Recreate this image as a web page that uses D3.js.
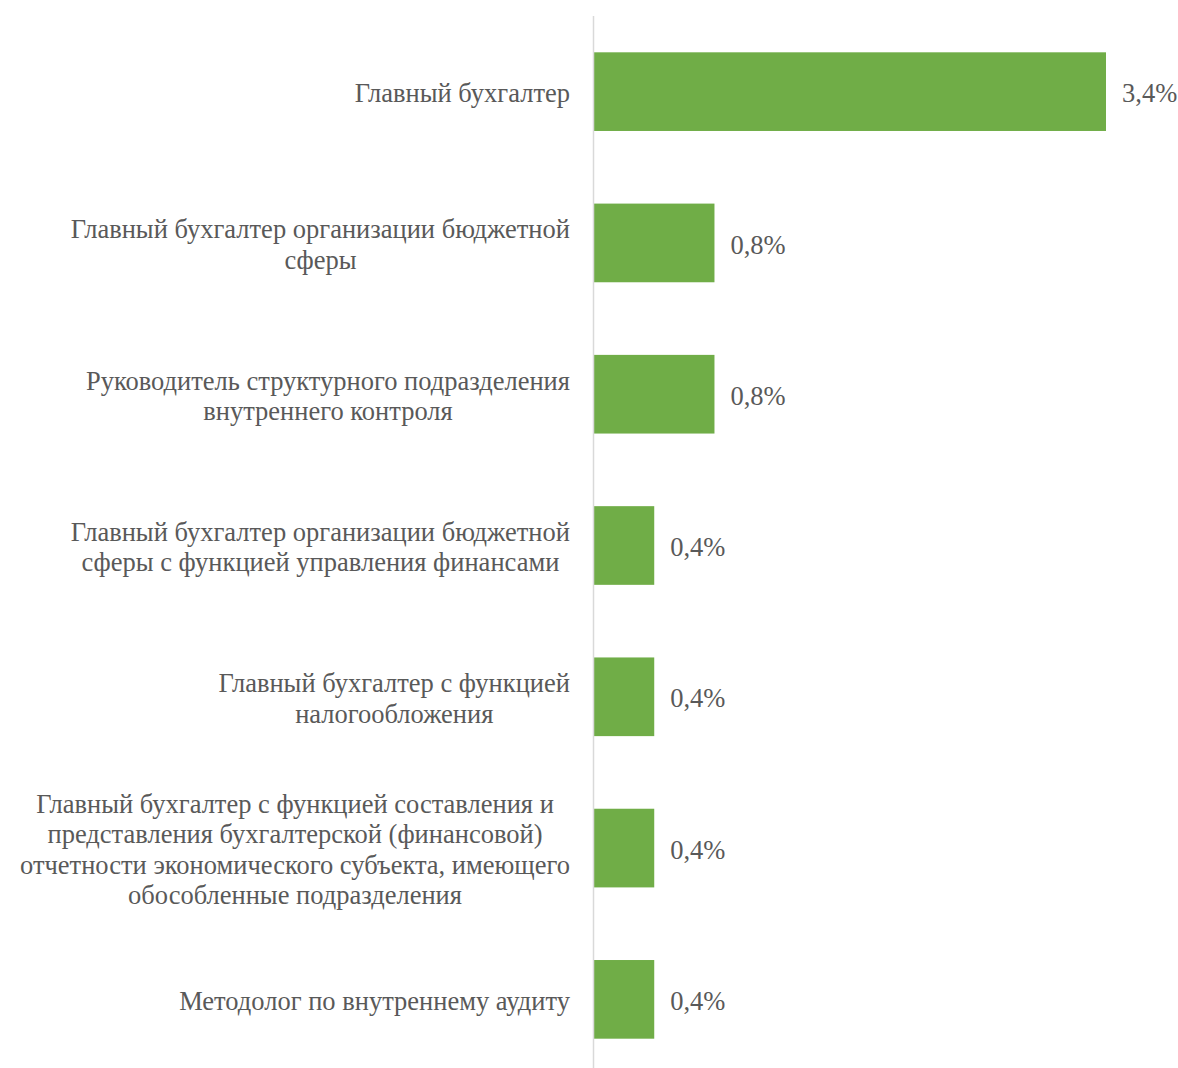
<!DOCTYPE html>
<html>
<head>
<meta charset="utf-8">
<script src="https://cdn.jsdelivr.net/npm/d3@7"></script>
<style>
  html, body { margin: 0; padding: 0; background: #fff; }
  svg { display: block; }
</style>
</head>
<body>
<svg id="chart" width="1178" height="1068"></svg>
<script>
// Position titles (each entry is the wrapped lines of one label)
const categories = [
  ["Главный бухгалтер"],
  ["Главный бухгалтер организации бюджетной", "сферы"],
  ["Руководитель структурного подразделения", "внутреннего контроля"],
  ["Главный бухгалтер организации бюджетной", "сферы с функцией управления финансами"],
  ["Главный бухгалтер с функцией", "налогообложения"],
  ["Главный бухгалтер с функцией составления и", "представления бухгалтерской (финансовой)", "отчетности экономического субъекта, имеющего", "обособленные подразделения"],
  ["Методолог по внутреннему аудиту"]
];
// Share, %
const values = [3.4, 0.8, 0.8, 0.4, 0.4, 0.4, 0.4];
const valueLabels = ["3,4%", "0,8%", "0,8%", "0,4%", "0,4%", "0,4%", "0,4%"];

const svg = d3.select("#chart");
const font = "'Liberation Serif', 'Times New Roman', serif";
const textColor = "#595959";
const fontSize = 26.5;
const lineHeight = 30.4;

const axisX = 594;
const labelRight = 570;

const x = d3.scaleLinear().domain([0, 3.4]).range([axisX, 1106]);
const y = d3.scaleBand()
  .domain(d3.range(categories.length))
  .range([16, 1075])
  .paddingInner(0.48)
  .paddingOuter(0.24);

// Bars
svg.append("g").selectAll("rect")
  .data(values)
  .join("rect")
  .attr("x", x(0))
  .attr("y", (d, i) => y(i))
  .attr("width", d => x(d) - x(0))
  .attr("height", y.bandwidth())
  .attr("fill", "#70AD47");

// Category axis line
svg.append("line")
  .attr("x1", axisX - 0.5).attr("x2", axisX - 0.5)
  .attr("y1", 16).attr("y2", 1075)
  .attr("stroke", "#d9d9d9")
  .attr("stroke-width", 1.5);

// Category labels: block right-aligned to the axis, lines centred in block
const labels = svg.append("g")
  .attr("font-family", font)
  .attr("font-size", fontSize)
  .attr("fill", textColor);

categories.forEach((lines, i) => {
  const cy = y(i) + y.bandwidth() / 2;
  const t = labels.append("text").attr("text-anchor", "middle");
  const n = lines.length;
  const spans = lines.map((ln, k) =>
    t.append("tspan")
      .attr("y", cy + (k - (n - 1) / 2) * lineHeight)
      .attr("dy", "0.4em")
      .text(ln)
  );
  const w = d3.max(spans, s => s.node().getComputedTextLength());
  spans.forEach(s => s.attr("x", labelRight - w / 2));
});

// Value labels
svg.append("g")
  .attr("font-family", font)
  .attr("font-size", fontSize)
  .attr("fill", textColor)
  .selectAll("text")
  .data(values)
  .join("text")
  .attr("x", d => x(d) + 16)
  .attr("y", (d, i) => y(i) + y.bandwidth() / 2)
  .attr("dy", "0.4em")
  .text((d, i) => valueLabels[i]);
</script>
</body>
</html>
